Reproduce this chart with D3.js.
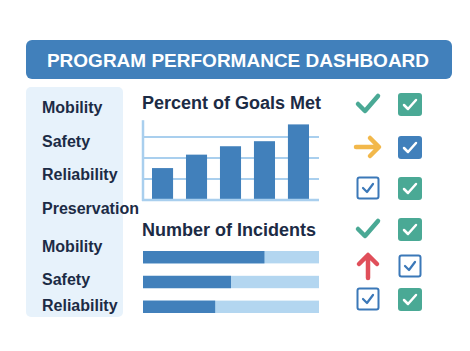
<!DOCTYPE html>
<html lang="en">
  <head>
    <meta charset="UTF-8" />
    <title>Program Performance Dashboard</title>
    <script src="https://d3js.org/d3.v7.min.js"></script>
    <style>
      body {
        margin: 0;
        background: #fff;
        font-family: "Liberation Sans", Arial, sans-serif;
      }
      svg {
        display: block;
      }
    </style>
  </head>
  <body>
    <svg id="dash" width="470" height="351"></svg>

    <script>
      // data
      const sideLabels = ["Mobility", "Safety", "Reliability", "Preservation", "Mobility", "Safety", "Reliability"];
      const goalBars = ["1", "2", "3", "4", "5"];
      const goalPct = [38, 54, 64, 70, 90];
      const goalTicks = [25, 50, 75];
      const incidentCats = ["Mobility", "Safety", "Reliability"];
      const incidentPct = [69, 50, 41];
      const statusLeft = ["check", "arrowRight", "outlineBox", "check", "arrowUp", "outlineBox"];
      const statusRight = ["greenBox", "blueBox", "greenBox", "greenBox", "outlineBox", "greenBox"];

      // layout
      const labelY = [113, 147, 180, 214, 252, 285, 311];
      const iconY = [104, 147, 188, 229, 266, 299];
      const navy = "#1c2b45";
      const blue = "#4180bb";
      const lightBlue = "#b3d6f0";
      const green = "#4aa995";

      const svg = d3.select("#dash");

      // header
      svg.append("rect")
        .attr("x", 26).attr("y", 40).attr("width", 426).attr("height", 39)
        .attr("rx", 6).attr("fill", "#4180bb");
      svg.append("text")
        .attr("x", 238).attr("y", 67)
        .attr("text-anchor", "middle")
        .attr("fill", "#fff")
        .style("font-size", "19px").style("font-weight", "bold")
        .text("PROGRAM PERFORMANCE DASHBOARD");

      // side panel
      svg.append("rect")
        .attr("x", 26).attr("y", 87).attr("width", 97).attr("height", 230)
        .attr("rx", 5).attr("fill", "#e7f2fb");
      svg.selectAll(".side")
        .data(sideLabels)
        .join("text")
        .attr("class", "side")
        .attr("x", 42)
        .attr("y", (d, i) => labelY[i])
        .attr("fill", navy)
        .style("font-size", "16px").style("font-weight", "bold")
        .text(d => d);

      // percent of goals met
      svg.append("text")
        .attr("x", 142).attr("y", 109)
        .attr("fill", navy)
        .style("font-size", "18px").style("font-weight", "bold")
        .text("Percent of Goals Met");

      const x = d3.scaleBand().domain(goalBars).range([152, 309]).paddingInner(0.38);
      const y = d3.scaleLinear().domain([0, 100]).range([200, 116]);

      svg.append("g")
        .selectAll("line")
        .data(goalTicks)
        .join("line")
        .attr("x1", 143).attr("x2", 319)
        .attr("y1", d => y(d)).attr("y2", d => y(d))
        .attr("stroke", "#a9cfee").attr("stroke-width", 2);

      svg.append("g")
        .selectAll("rect")
        .data(goalPct)
        .join("rect")
        .attr("x", (d, i) => x(goalBars[i]))
        .attr("y", d => y(d))
        .attr("width", x.bandwidth())
        .attr("height", d => y(0) - y(d))
        .attr("fill", blue);

      svg.append("line")
        .attr("x1", 143).attr("x2", 143).attr("y1", y(95)).attr("y2", y(0) + 1)
        .attr("stroke", "#a9cfee").attr("stroke-width", 2.5);
      svg.append("line")
        .attr("x1", 142).attr("x2", 319).attr("y1", y(0)).attr("y2", y(0))
        .attr("stroke", "#a9cfee").attr("stroke-width", 2.5);

      // number of incidents
      svg.append("text")
        .attr("x", 142).attr("y", 236)
        .attr("fill", navy)
        .style("font-size", "18px").style("font-weight", "bold")
        .text("Number of Incidents");

      const xi = d3.scaleLinear().domain([0, 100]).range([143, 319]);
      const yi = d3.scaleBand().domain(incidentCats).range([251, 313]).paddingInner(0.5);

      const rows = svg.append("g").selectAll("g").data(incidentCats).join("g");
      rows.append("rect")
        .attr("x", xi(0)).attr("y", d => yi(d))
        .attr("width", xi(100) - xi(0)).attr("height", yi.bandwidth())
        .attr("fill", lightBlue);
      rows.append("rect")
        .attr("x", xi(0)).attr("y", d => yi(d))
        .attr("width", (d, i) => xi(incidentPct[i]) - xi(0)).attr("height", yi.bandwidth())
        .attr("fill", blue);

      // status icons
      function drawIcon(g, type, cx, cy) {
        if (type === "check") {
          g.append("path")
            .attr("d", `M${cx - 10},${cy} L${cx - 3},${cy + 7} L${cx + 10},${cy - 8}`)
            .attr("fill", "none").attr("stroke", green).attr("stroke-width", 4.5)
            .attr("stroke-linecap", "round").attr("stroke-linejoin", "round");
        } else if (type === "greenBox" || type === "blueBox") {
          g.append("rect")
            .attr("x", cx - 12).attr("y", cy - 11).attr("width", 24).attr("height", 23)
            .attr("rx", 3).attr("fill", type === "greenBox" ? green : blue);
          g.append("path")
            .attr("d", `M${cx - 6},${cy + 1} L${cx - 2},${cy + 5} L${cx + 6},${cy - 4}`)
            .attr("fill", "none").attr("stroke", "#fff").attr("stroke-width", 2.5)
            .attr("stroke-linecap", "round").attr("stroke-linejoin", "round");
        } else if (type === "outlineBox") {
          g.append("rect")
            .attr("x", cx - 10.5).attr("y", cy - 10.5).attr("width", 21).attr("height", 21)
            .attr("rx", 2).attr("fill", "#fff").attr("stroke", "#3b78b8").attr("stroke-width", 2);
          g.append("path")
            .attr("d", `M${cx - 5},${cy} L${cx - 1},${cy + 4} L${cx + 5},${cy - 4}`)
            .attr("fill", "none").attr("stroke", "#3b78b8").attr("stroke-width", 2.2)
            .attr("stroke-linecap", "round").attr("stroke-linejoin", "round");
        } else if (type === "arrowRight") {
          g.append("path")
            .attr("d", `M${cx - 12},${cy} L${cx + 10},${cy} M${cx + 2},${cy - 9} L${cx + 11},${cy} L${cx + 2},${cy + 9}`)
            .attr("fill", "none").attr("stroke", "#f2b84b").attr("stroke-width", 4.5)
            .attr("stroke-linecap", "round").attr("stroke-linejoin", "round");
        } else if (type === "arrowUp") {
          g.append("path")
            .attr("d", `M${cx},${cy + 12} L${cx},${cy - 10} M${cx - 9},${cy - 2} L${cx},${cy - 11} L${cx + 9},${cy - 2}`)
            .attr("fill", "none").attr("stroke", "#e04f5a").attr("stroke-width", 4.5)
            .attr("stroke-linecap", "round").attr("stroke-linejoin", "round");
        }
      }

      const icons = svg.append("g");
      statusLeft.forEach((t, i) => drawIcon(icons, t, 368, iconY[i]));
      statusRight.forEach((t, i) => drawIcon(icons, t, 410, iconY[i]));
    </script>
  </body>
</html>
